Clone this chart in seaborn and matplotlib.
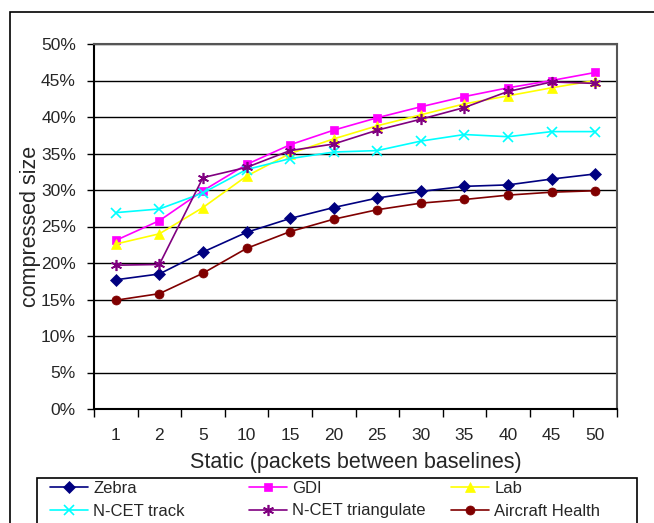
import numpy as np
import pandas as pd
import matplotlib
matplotlib.use("Agg")
import matplotlib.pyplot as plt
import seaborn as sns
from matplotlib.patches import Rectangle
from matplotlib.ticker import FixedLocator, PercentFormatter

# Data (compressed size in %)
static_labels = ["1", "2", "5", "10", "15", "20", "25", "30", "35", "40", "45", "50"]
zebra = [17.7, 18.5, 21.5, 24.2, 26.1, 27.6, 28.9, 29.8, 30.5, 30.7, 31.5, 32.2]
gdi = [23.1, 25.8, 29.9, 33.5, 36.2, 38.2, 39.9, 41.4, 42.8, 44.0, 45.0, 46.1]
lab = [22.6, 24.0, 27.6, 31.9, 35.0, 37.0, 38.8, 40.3, 41.8, 42.9, 44.0, 45.0]
ncet_track = [26.9, 27.4, 29.6, 32.8, 34.3, 35.2, 35.4, 36.7, 37.6, 37.3, 38.0, 38.0]
ncet_tri = [19.7, 19.8, 31.7, 33.1, 35.4, 36.3, 38.2, 39.7, 41.3, 43.5, 44.8, 44.6]
aircraft = [14.9, 15.8, 18.6, 22.0, 24.3, 26.0, 27.3, 28.2, 28.7, 29.3, 29.7, 29.9]

series_names = ["Zebra", "GDI", "Lab", "N-CET track", "N-CET triangulate", "Aircraft Health"]
series_values = [zebra, gdi, lab, ncet_track, ncet_tri, aircraft]
colors = ["#000080", "#FF00FF", "#FFFF00", "#00FFFF", "#800080", "#800000"]
markers = ["D", "s", "^", "x", (6, 2, 0), "o"]
msizes = [6.0, 6.0, 7.5, 7.0, 8.0, 6.5]

# long-form table
pos = np.arange(len(static_labels))
df = pd.concat([pd.DataFrame({"pos": pos, "value": vals, "series": name})
                for name, vals in zip(series_names, series_values)], ignore_index=True)

sns.set_style("white")
plt.rcParams["font.family"] = ["Liberation Sans", "DejaVu Sans"]

fig = plt.figure(figsize=(6.54, 5.23), dpi=100)
ax = fig.add_axes([94 / 654, 1 - 409 / 523, 523 / 654, 365 / 523])

# outer frame of the chart
fig.patches.append(Rectangle((10 / 654, -0.1), 1.0, 1.1 - 12 / 523, transform=fig.transFigure,
                             fill=False, edgecolor="black", linewidth=1.2, zorder=0))

for name, color, mk, ms in zip(series_names, colors, markers, msizes):
    sub = df[df["series"] == name]
    thin = mk in ("x", (6, 2, 0))
    sns.lineplot(data=sub, x="pos", y="value", ax=ax, color=color, marker=mk,
                 markersize=ms, markeredgecolor=color, markeredgewidth=1.2 if thin else 0.5,
                 linewidth=1.2, label=name, legend=False)

ax.set_xlim(-0.5, len(static_labels) - 0.5)
ax.set_ylim(0, 50)
ax.set_yticks(np.arange(0, 51, 5))
ax.yaxis.set_major_formatter(PercentFormatter(decimals=0))
ax.set_xticks(pos)
ax.set_xticklabels(static_labels)
ax.xaxis.set_minor_locator(FixedLocator(np.arange(-0.5, len(static_labels), 1.0)))
ax.tick_params(axis="x", which="major", length=0, pad=14, labelsize=12.5)
ax.tick_params(axis="x", which="minor", length=6, width=1, color="black", direction="out", bottom=True)
ax.tick_params(axis="y", which="major", length=5, width=1, color="black", direction="out", left=True,
               labelsize=12.5, pad=8)
ax.grid(axis="y", color="black", linewidth=1)
ax.set_axisbelow(True)

for side in ["left", "bottom"]:
    ax.spines[side].set_color("black")
    ax.spines[side].set_linewidth(1.5)
for side in ["top", "right"]:
    ax.spines[side].set_color("#555555")
    ax.spines[side].set_linewidth(1.5)

ax.set_xlabel("Static (packets between baselines)", fontsize=15.5, labelpad=6)
ax.set_ylabel("compressed size", fontsize=15.5, labelpad=0)

# legend box with three columns placed like the original
fig.patches.append(Rectangle((37 / 654, -0.05), 600 / 654, 0.05 + 1 - 478 / 523,
                             transform=fig.transFigure, fill=False, edgecolor="black",
                             linewidth=1.2, zorder=5))
handles, labels = ax.get_legend_handles_labels()
col_x = [50, 249, 451]
for c in range(3):
    idx = [c, c + 3]
    fig.legend([handles[i] for i in idx], [labels[i] for i in idx], ncol=1,
               loc="upper left", bbox_to_anchor=(col_x[c] / 654, 1 - 481 / 523),
               frameon=False, fontsize=12, handlelength=2.3, handletextpad=0.3,
               borderpad=0, labelspacing=0.45, borderaxespad=0)

fig.savefig("out.png", dpi=100)
